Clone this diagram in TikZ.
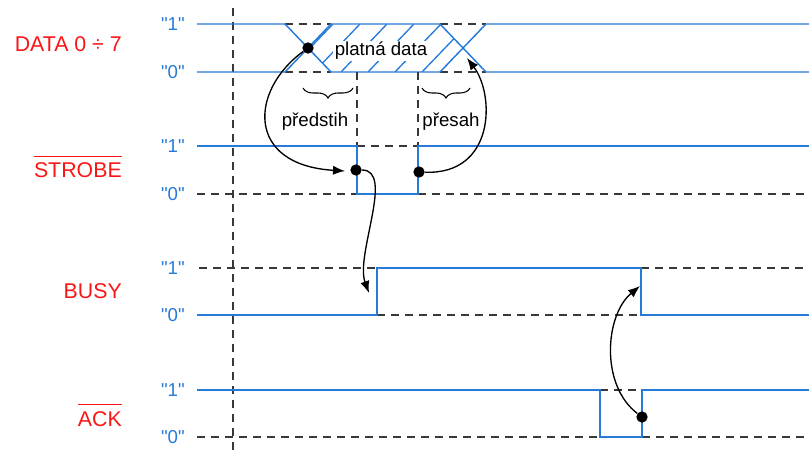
\documentclass[tikz,border=0pt]{standalone}
\usepackage{fontspec}
\setmainfont{Liberation Sans}
\usetikzlibrary{arrows.meta,decorations.pathreplacing}
\definecolor{sigblue}{RGB}{38,122,216}
\definecolor{sigred}{RGB}{250,22,22}
\font\lvlfont="Liberation Sans" at 14pt
\newcommand{\negsig}[1]{\vbox{\hrule height 1.1pt\kern 4.5pt\hbox{#1}}}

\begin{document}
\begin{tikzpicture}[
   x=0.75pt,y=-0.75pt,
   wave/.style={sigblue,line width=1.1pt},
   guide/.style={black!78,line width=1.2pt,dash pattern=on 6pt off 4.5pt},
   hatch/.style={sigblue,line width=1pt},
   signame/.style={anchor=base east,text=sigred,font=\fontsize{16}{19}\selectfont,inner sep=0pt},
   level/.style={anchor=east,text=sigblue,font=\lvlfont,inner sep=0pt},
   note/.style={font=\fontsize{14}{17}\selectfont,inner sep=1pt},
   dot/.style={circle,fill=black,inner sep=0pt,minimum size=8.5pt},
   cause/.style={-{Latex[length=9pt,width=7pt]},line width=1pt},
   gap/.style={decorate,decoration={brace,amplitude=7.5pt},line width=0.8pt},
]
\useasboundingbox (0,0) rectangle (809,452);

\node[signame] (nData) at (122,52) {DATA 0 ÷ 7};
\node[signame] (nStrobe) at (122,178) {\negsig{STROBE}};
\node[signame] (nBusy) at (122,298) {BUSY};
\node[signame] (nAck) at (122,426) {\negsig{ACK}};

\foreach \y/\v in {24/1,72/0,146/1,194/0,268/1,315/0,390/1,437/0}
   \node[level] at (185,\y) {"\v"};

\draw[guide] (233,8) -- (233,452);

% DATA
\draw[guide] (285,24) -- (331,24) (285,72) -- (331,72);
\draw[guide] (440,24) -- (486,24) (440,72) -- (486,72);
\begin{scope}
   \clip (308,48) -- (331,24) -- (440,24) -- (463,48) -- (440,72) -- (331,72) -- cycle;
   \foreach \k in {0,...,6}
      \draw[hatch] ({287+27*\k},72) -- ++(46,-48);
\end{scope}
\draw[wave] (197,24) -- (285,24) -- (331,72) -- (440,72) -- (486,24) -- (809,24);
\draw[wave] (197,72) -- (285,72) -- (331,24) -- (440,24) -- (486,72) -- (809,72);
\node[note,fill=white] (valid) at (381,51) {platná data};

% STROBE
\draw[guide] (357,72) -- (357,146) (418,72) -- (418,146);
\draw[guide] (357,146) -- (418,146);
\draw[guide] (197,194) -- (357,194) (418,194) -- (809,194);
\draw[wave] (197,146) -- (357,146) -- (357,194) -- (418,194) -- (418,146) -- (809,146);

% BUSY
\draw[guide] (199,268) -- (377,268) (641,268) -- (809,268);
\draw[guide] (377,315) -- (641,315);
\draw[wave] (197,315) -- (377,315) -- (377,268) -- (641,268) -- (641,315) -- (809,315);

% ACK
\draw[guide] (600,390) -- (642,390);
\draw[guide] (197,437) -- (600,437) (642,437) -- (809,437);
\draw[wave] (197,390) -- (600,390) -- (600,437) -- (642,437) -- (642,390) -- (809,390);

\draw[gap] (353,88) -- (303,88);
\draw[gap] (470,88) -- (422,88);
\node[note] (lead) at (315,122) {předstih};
\node[note] (hold) at (451,122) {přesah};

\node[dot] (dData) at (308,48) {};
\node[dot] (dFall) at (356,170) {};
\node[dot] (dRise) at (419,172) {};
\node[dot] (dAck) at (642,417) {};
\coordinate (tFall) at (345,171);
\coordinate (tData) at (467,58);
\coordinate (tBusy) at (369,293);
\coordinate (tBusyEnd) at (640,286);

\draw[cause] (dData) .. controls (250,90) and (245,165) .. (tFall);
\draw[cause] (dRise) .. controls (495,175) and (495,95) .. (tData);
\draw[cause] (dFall) .. controls (395,170) and (355,255) .. (tBusy);
\draw[cause] (dAck) .. controls (600,385) and (605,315) .. (tBusyEnd);
\end{tikzpicture}
\end{document}
